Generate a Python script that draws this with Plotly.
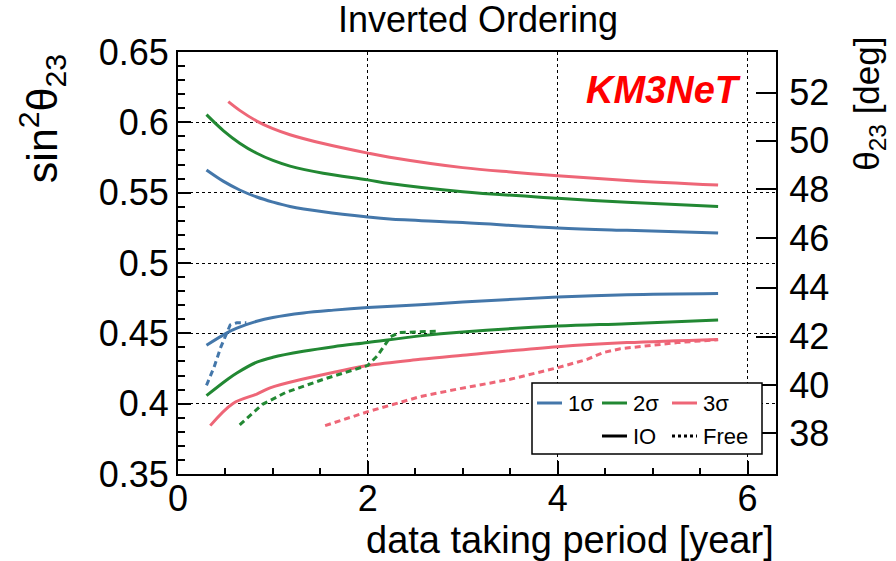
import numpy as np
import plotly.graph_objects as go

# ---- data: sin^2(theta23) sensitivity bands vs. exposure (years) ----
years_up = [0.3, 0.48, 0.65, 0.83, 1.0, 1.18, 1.53, 2.0, 2.23, 3.0, 4.0, 4.73, 5.69]
io_1s_up = [0.5661, 0.5580, 0.5519, 0.5469, 0.5433, 0.5402, 0.5364, 0.5327, 0.5313, 0.5288, 0.5249, 0.5232, 0.5214]
io_2s_up = [0.6055, 0.5940, 0.5852, 0.5780, 0.5729, 0.5689, 0.5638, 0.5591, 0.5565, 0.5507, 0.546, 0.5432, 0.5401]

years_3s_up = [0.53, 0.65, 0.83, 1.0, 1.18, 1.53, 2.0, 2.23, 3.0, 3.53, 4.0, 4.73, 5.69]
io_3s_up = [0.6147, 0.6085, 0.6009, 0.5955, 0.5912, 0.5849, 0.5781, 0.5752, 0.5678, 0.5645, 0.562, 0.5587, 0.5554]

years_lo = [0.3, 0.52, 0.62, 0.83, 1.0, 1.32, 1.64, 2.0, 2.55, 3.0, 4.0, 4.73, 5.69]
io_1s_lo = [0.4415, 0.4505, 0.4537, 0.4586, 0.4613, 0.4645, 0.4665, 0.4683, 0.4704, 0.4722, 0.4758, 0.4775, 0.4784]
io_2s_lo = [0.4057, 0.4172, 0.4218, 0.4295, 0.4330, 0.4372, 0.4405, 0.4435, 0.4482, 0.451, 0.4552, 0.4569, 0.4595]

years_3s_lo = [0.34, 0.58, 0.83, 0.97, 1.32, 1.67, 2.0, 2.55, 3.0, 4.0, 4.73, 5.69]
io_3s_lo = [0.3844, 0.4002, 0.4068, 0.4112, 0.4175, 0.4227, 0.4272, 0.4315, 0.4344, 0.4405, 0.4434, 0.4457]

years_free_1s = [0.3, 0.38, 0.45, 0.55, 0.62, 0.72]
free_1s = [0.413, 0.426, 0.44, 0.456, 0.4575, 0.4575]
years_free_2s = [0.65, 0.89, 1.13, 1.53, 2.0, 2.1, 2.24, 2.33, 2.5, 2.75]
free_2s = [0.385, 0.3995, 0.4078, 0.4173, 0.4272, 0.434, 0.4476, 0.4505, 0.451, 0.4515]
years_free_3s = [1.55, 2.0, 2.55, 2.97, 3.5, 4.0, 4.31, 4.48, 4.66, 4.91, 5.26, 5.69]
free_3s = [0.3844, 0.3943, 0.405, 0.4107, 0.4173, 0.4256, 0.4315, 0.4363, 0.4391, 0.441, 0.4434, 0.4455]

theta_deg_ticks = [38, 40, 42, 44, 46, 48, 50, 52]
sin2_ticks = [0.35, 0.4, 0.45, 0.5, 0.55, 0.6, 0.65]
sin2_labels = ["0.35", "0.4", "0.45", "0.5", "0.55", "0.6", "0.65"]

C1, C2, C3 = "#4477AA", "#228833", "#EE6677"
FONT = "Liberation Sans, Arial, sans-serif"
LW = 3
DASH = "6px,4px"

fig = go.Figure()

def solid(x, y, c):
    fig.add_trace(go.Scatter(x=x, y=y, mode="lines",
                             line=dict(color=c, width=LW, shape="spline", smoothing=1.0),
                             showlegend=False, hoverinfo="skip"))

def dashed(x, y, c):
    fig.add_trace(go.Scatter(x=x, y=y, mode="lines", line=dict(color=c, width=LW, dash=DASH),
                             showlegend=False, hoverinfo="skip"))

solid(years_up, io_1s_up, C1)
solid(years_lo, io_1s_lo, C1)
solid(years_up, io_2s_up, C2)
solid(years_lo, io_2s_lo, C2)
solid(years_3s_up, io_3s_up, C3)
solid(years_3s_lo, io_3s_lo, C3)
dashed(years_free_1s, free_1s, C1)
dashed(years_free_2s, free_2s, C2)
dashed(years_free_3s, free_3s, C3)

# carrier trace for the theta23 axis
fig.add_trace(go.Scatter(x=[None], y=[None], yaxis="y2", showlegend=False, hoverinfo="skip"))

theta_pos = [np.sin(np.radians(d)) ** 2 for d in theta_deg_ticks]

grid = dict(showgrid=True, gridcolor="black", griddash="dot", gridwidth=1.3)

fig.update_layout(
    width=896, height=561,
    margin=dict(l=178, r=120, t=52, b=87),
    paper_bgcolor="white", plot_bgcolor="white",
    font=dict(family=FONT, color="black", size=36),
    showlegend=False,
    xaxis=dict(range=[0, 6.3], tickvals=[0, 2, 4, 6], ticks="inside", ticklen=13,
               tickwidth=1.5, tickcolor="black", ticklabelstandoff=-8,
               minor=dict(dtick=0.5, ticks="inside", ticklen=6, tickcolor="black", showgrid=False),
               showline=True, linecolor="black", linewidth=2, mirror=True,
               zeroline=False, tickfont=dict(size=36), **grid),
    yaxis=dict(range=[0.35, 0.65], tickvals=sin2_ticks, ticktext=sin2_labels,
               ticks="inside", ticklen=13, tickwidth=1.5, tickcolor="black",
               minor=dict(dtick=0.01, ticks="inside", ticklen=7, tickcolor="black", showgrid=False),
               showline=True, linecolor="black", linewidth=2,
               zeroline=False, tickfont=dict(size=36), **grid),
    yaxis2=dict(range=[0.35, 0.65], overlaying="y", side="right", tickvals=theta_pos,
                ticktext=[str(d) for d in theta_deg_ticks], ticks="inside", ticklen=20,
                tickwidth=1.5, tickcolor="black", showline=True, linecolor="black", linewidth=2,
                ticklabelstandoff=4, showgrid=False, zeroline=False, tickfont=dict(size=36)),
)

ann = []
ann.append(dict(text="Inverted Ordering", x=0.502, y=1.076, xref="paper", yref="paper",
                showarrow=False, font=dict(size=36), xanchor="center", yanchor="middle"))
ann.append(dict(text="data taking period [year]", x=1.0, y=-0.156, xref="paper", yref="paper",
                showarrow=False, font=dict(size=38), xanchor="right", yanchor="middle"))
ann.append(dict(text="sin<sup>2</sup>θ<sub>23</sub>",
                x=-0.228, y=1.0, xref="paper", yref="paper",
                showarrow=False, font=dict(size=43), textangle=-90, xanchor="center", yanchor="top"))
ann.append(dict(text="θ<sub>23</sub> [deg]", x=1.155, y=1.04, xref="paper", yref="paper",
                showarrow=False, font=dict(size=35), textangle=-90, xanchor="center", yanchor="top"))
ann.append(dict(text="<b><i>KM3NeT</i></b>", x=0.945, y=0.91, xref="paper", yref="paper",
                showarrow=False, font=dict(size=38, color="#FF0000"), xanchor="right", yanchor="middle"))

# legend box
def px_x(p):
    return (p - 178) / 598

def px_y(p):
    return (474 - p) / 422

shapes = [dict(type="rect", xref="paper", yref="paper", x0=px_x(532), x1=px_x(762),
               y0=px_y(454), y1=px_y(383), line=dict(color="black", width=1.5), fillcolor="white", layer="above")]
rows = [
    [(537, C1, "solid", "1σ"), (602, C2, "solid", "2σ"), (672, C3, "solid", "3σ")],
    [(602, "black", "solid", "IO"), (672, "black", "dot", "Free")],
]
row_y = [403, 436]
for r, items in enumerate(rows):
    for x0, col, dash, label in items:
        shapes.append(dict(type="line", xref="paper", yref="paper", x0=px_x(x0), x1=px_x(x0 + 25),
                           y0=px_y(row_y[r]), y1=px_y(row_y[r]), line=dict(color=col, width=LW, dash=dash),
                           layer="above"))
        ann.append(dict(text=label, x=px_x(x0 + 29), y=px_y(row_y[r]), xref="paper", yref="paper",
                        showarrow=False, font=dict(size=22), xanchor="left", yanchor="middle"))

fig.update_layout(annotations=ann, shapes=shapes)
fig.write_html("out.html")
